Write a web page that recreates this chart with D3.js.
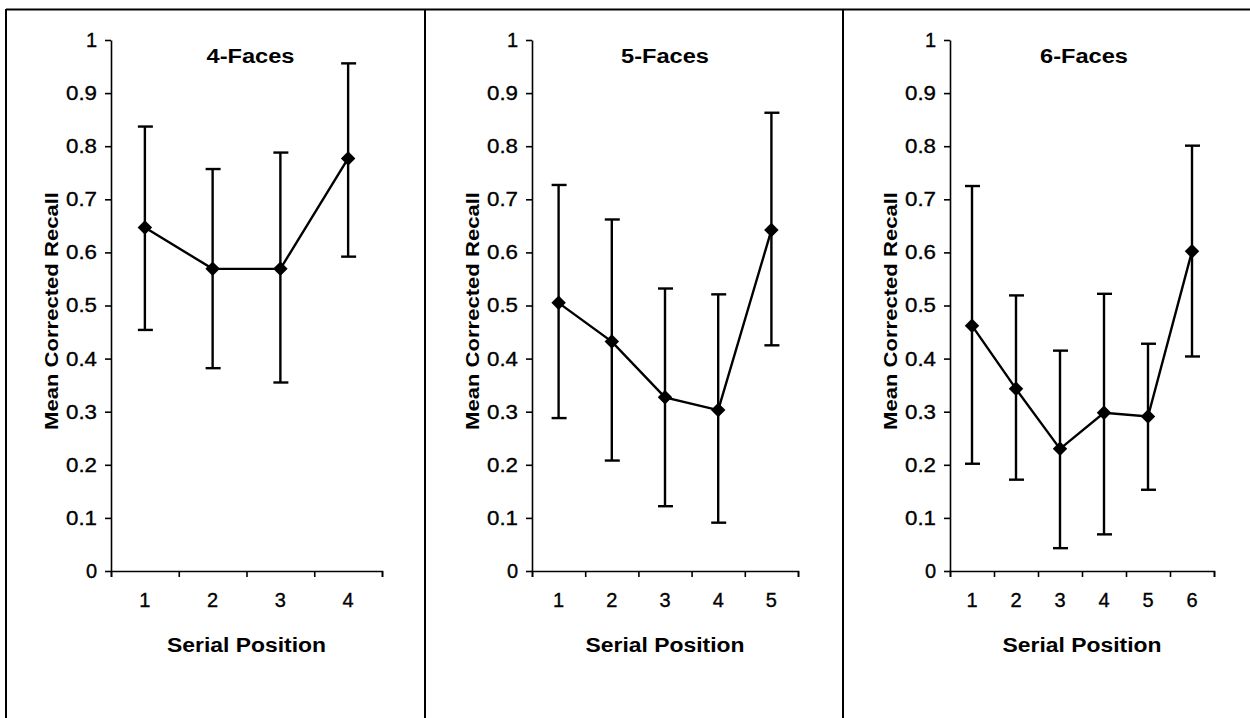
<!DOCTYPE html>
<html>
<head>
<meta charset="utf-8">
<script src="https://cdn.jsdelivr.net/npm/d3@7"></script>
<style>
  body { margin: 0; background: #fff; }
  svg { display: block; }
  text { font-family: Arial, "Liberation Sans", sans-serif; fill: #000; }
  .tick text { stroke: #000; stroke-width: 0.35px; }
</style>
</head>
<body>
<div id="graph"></div>
<script>
// values
const panelTitles = ['4-Faces', '5-Faces', '6-Faces'];
const positions4 = ['1', '2', '3', '4'];
const positions5 = ['1', '2', '3', '4', '5'];
const positions6 = ['1', '2', '3', '4', '5', '6'];

const means4 = [0.647, 0.569, 0.569, 0.777];
const upper4 = [0.837, 0.757, 0.788, 0.956];
const lower4 = [0.454, 0.382, 0.355, 0.592];

const means5 = [0.505, 0.432, 0.327, 0.303, 0.642];
const upper5 = [0.727, 0.662, 0.532, 0.521, 0.863];
const lower5 = [0.288, 0.208, 0.122, 0.091, 0.425];

const means6 = [0.462, 0.343, 0.230, 0.298, 0.291, 0.602];
const upper6 = [0.725, 0.519, 0.415, 0.522, 0.428, 0.801];
const lower6 = [0.202, 0.172, 0.043, 0.069, 0.153, 0.404];

const yTicks = [0, 0.1, 0.2, 0.3, 0.4, 0.5, 0.6, 0.7, 0.8, 0.9, 1];
const yTitle = 'Mean Corrected Recall';
const xTitle = 'Serial Position';

let width = 1250;
let height = 718;

let svg = d3.select('#graph').append('svg')
    .attr('width', width)
    .attr('height', height);

// panel frames
let frameX = [6, 425, 843];
svg.append('line')
    .attr('x1', frameX[0]).attr('x2', width)
    .attr('y1', 9.5).attr('y2', 9.5)
    .attr('stroke', '#000').attr('stroke-width', 2);
frameX.forEach(function(fx) {
  svg.append('line')
      .attr('x1', fx).attr('x2', fx)
      .attr('y1', 9).attr('y2', height)
      .attr('stroke', '#000').attr('stroke-width', 2);
});

let panels = [
  {title: panelTitles[0], cats: positions4, mean: means4, hi: upper4, lo: lower4, left: 111, right: 382, dx: 4},
  {title: panelTitles[1], cats: positions5, mean: means5, hi: upper5, lo: lower5, left: 532, right: 798, dx: 0},
  {title: panelTitles[2], cats: positions6, mean: means6, hi: upper6, lo: lower6, left: 950, right: 1214, dx: 2}
];

let y = d3.scaleLinear().domain([0, 1]).range([571, 40]);

panels.forEach(function(p) {
  let g = svg.append('g');

  let x = d3.scaleBand().domain(p.cats).range([p.left, p.right]).padding(0);
  // band edges for the tick marks
  let xEdge = d3.scaleLinear().domain([0, p.cats.length]).range([p.left, p.right]);

  // y axis
  let yAxis = g.append('g')
      .attr('transform', 'translate(' + p.left + ',0)')
      .call(d3.axisLeft(y).tickValues(yTicks).tickSize(6).tickSizeOuter(0).tickPadding(8)
        .tickFormat(function(d) { return d === 0 || d === 1 ? d3.format('d')(d) : d3.format('.1f')(d); }));
  yAxis.selectAll('text')
      .style('font-size', '20px')
      .filter(function(d) { return d > 0 && d < 1; })
      .attr('textLength', 31).attr('lengthAdjust', 'spacingAndGlyphs');

  // x axis: tick marks at band edges
  g.append('g')
      .attr('transform', 'translate(0,' + y(0) + ')')
      .call(d3.axisBottom(xEdge).tickValues(d3.range(p.cats.length + 1)).tickSize(6).tickFormat(''));

  // x axis labels at band centers
  let xLabels = g.append('g')
      .attr('transform', 'translate(0,' + y(0) + ')')
      .call(d3.axisBottom(x).tickSize(0).tickPadding(22));
  xLabels.select('.domain').remove();
  xLabels.selectAll('text').style('font-size', '20px');

  g.selectAll('.domain').attr('stroke-width', 1.6);
  g.selectAll('.tick line').attr('stroke-width', 1.6);

  // error bars
  let cx = function(i) { return x(p.cats[i]) + x.bandwidth() / 2; };
  let bars = g.append('g').attr('stroke', '#000').attr('stroke-width', 2.4);
  p.mean.forEach(function(m, i) {
    bars.append('line')
        .attr('x1', cx(i)).attr('x2', cx(i))
        .attr('y1', y(p.hi[i])).attr('y2', y(p.lo[i]));
    [p.hi[i], p.lo[i]].forEach(function(v) {
      bars.append('line')
          .attr('x1', cx(i) - 7).attr('x2', cx(i) + 8)
          .attr('y1', y(v)).attr('y2', y(v));
    });
  });

  // mean line
  let line = d3.line()
      .x(function(d, i) { return cx(i); })
      .y(function(d) { return y(d); });
  g.append('path')
      .datum(p.mean)
      .attr('d', line)
      .attr('fill', 'none')
      .attr('stroke', '#000')
      .attr('stroke-width', 2.4);

  // diamond markers
  g.selectAll('.marker')
      .data(p.mean)
      .enter().append('path')
      .attr('class', 'marker')
      .attr('d', d3.symbol(d3.symbolSquare, 105))
      .attr('transform', function(d, i) {
        return 'translate(' + cx(i) + ',' + y(d) + ') rotate(45)';
      })
      .attr('fill', '#000');

  // titles
  let mid = (p.left + p.right) / 2;
  g.append('text')
      .attr('x', mid + p.dx).attr('y', 63)
      .attr('text-anchor', 'middle')
      .attr('textLength', 88).attr('lengthAdjust', 'spacingAndGlyphs')
      .style('font-size', '20px').style('font-weight', 'bold')
      .text(p.title);

  g.append('text')
      .attr('x', mid).attr('y', 652)
      .attr('text-anchor', 'middle')
      .attr('textLength', 159).attr('lengthAdjust', 'spacingAndGlyphs')
      .style('font-size', '20px').style('font-weight', 'bold')
      .text(xTitle);

  g.append('text')
      .attr('transform', 'translate(' + (p.left - 53) + ',311) rotate(-90)')
      .attr('text-anchor', 'middle')
      .attr('textLength', 238).attr('lengthAdjust', 'spacingAndGlyphs')
      .style('font-size', '19px').style('font-weight', 'bold')
      .text(yTitle);
});
</script>
</body>
</html>
